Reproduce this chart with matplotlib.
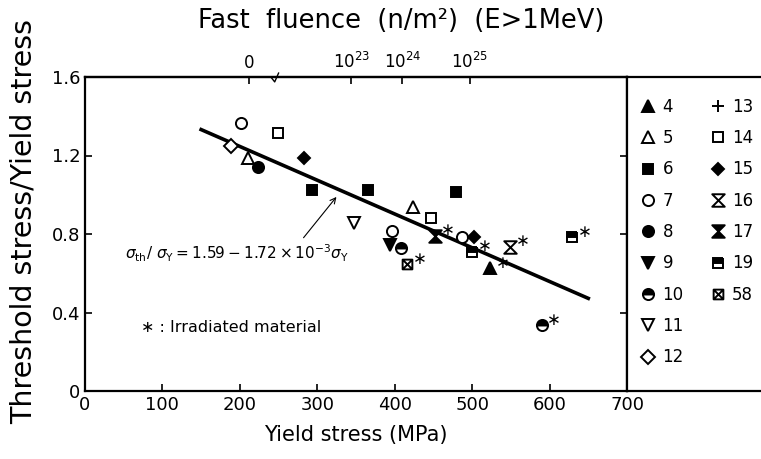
import matplotlib
matplotlib.use("Agg")
import matplotlib.pyplot as plt
from matplotlib.path import Path

plt.rcParams['font.family'] = ['DejaVu Sans']

# yield stress (MPa), threshold/yield ratio for every data series
pts_4 = [(523, 0.625)]
pts_5 = [(211, 1.186), (424, 0.939)]
pts_6 = [(293, 1.024), (366, 1.024), (479, 1.016)]
pts_7 = [(201, 1.364), (397, 0.815), (487, 0.783)]
pts_8 = [(224, 1.14)]
pts_9 = [(394, 0.744)]
pts_10 = [(408, 0.727), (590, 0.336)]
pts_11 = [(347, 0.854)]
pts_12 = [(189, 1.248)]
pts_13 = []
pts_14 = [(249, 1.313), (447, 0.88)]
pts_15 = [(283, 1.186), (502, 0.783)]
pts_16 = [(549, 0.735)]
pts_17 = [(452, 0.79)]
pts_19 = [(500, 0.71), (629, 0.783)]
pts_58 = [(416, 0.645)]

# irradiated material points (get a star)
irradiated = [(416, 0.645), (452, 0.79), (500, 0.71), (523, 0.625),
              (549, 0.735), (629, 0.783), (590, 0.336)]

# regression line end points
fit_x = [150, 650]
fit_y = [1.332, 0.472]

# top axis (fast fluence)
fluence_pos = [212, 344, 410, 497]
fluence_labels = ['0', r'$10^{23}$', r'$10^{24}$', r'$10^{25}$']
break_pos = 245

hourglass = Path([(-1, 1), (1, 1), (-1, -1), (1, -1), (-1, 1)],
                 [Path.MOVETO, Path.LINETO, Path.LINETO, Path.LINETO, Path.CLOSEPOLY])
boxx = Path([(-1, -1), (1, -1), (1, 1), (-1, 1), (-1, -1),
             (-1, -1), (1, 1), (-1, 1), (1, -1)],
            [Path.MOVETO, Path.LINETO, Path.LINETO, Path.LINETO, Path.CLOSEPOLY,
             Path.MOVETO, Path.LINETO, Path.MOVETO, Path.LINETO])

series = [
    ('4', pts_4, dict(marker='^', mfc='k', ms=8)),
    ('5', pts_5, dict(marker='^', mfc='white', ms=8)),
    ('6', pts_6, dict(marker='s', mfc='k', ms=6.5)),
    ('7', pts_7, dict(marker='o', mfc='white', ms=8)),
    ('8', pts_8, dict(marker='o', mfc='k', ms=8)),
    ('9', pts_9, dict(marker='v', mfc='k', ms=8)),
    ('10', pts_10, dict(marker='o', fillstyle='top', mfc='k', markerfacecoloralt='white', ms=8)),
    ('11', pts_11, dict(marker='v', mfc='white', ms=8)),
    ('12', pts_12, dict(marker='D', mfc='white', ms=7)),
    ('13', pts_13, dict(marker='+', ms=9)),
    ('14', pts_14, dict(marker='s', mfc='white', ms=7)),
    ('15', pts_15, dict(marker='D', mfc='k', ms=6.5)),
    ('16', pts_16, dict(marker=hourglass, mfc='white', ms=9)),
    ('17', pts_17, dict(marker=hourglass, mfc='k', ms=9)),
    ('19', pts_19, dict(marker='s', fillstyle='top', mfc='k', markerfacecoloralt='white', ms=7)),
    ('58', pts_58, dict(marker=boxx, mfc='none', ms=7)),
]

fig = plt.figure(figsize=(7.61, 4.59), dpi=100)
ax = fig.add_axes([85 / 761, 1 - 391 / 459, 542 / 761, 314 / 459])

handles = []
for name, pts, st in series:
    xs = [p[0] for p in pts]
    ys = [p[1] for p in pts]
    h, = ax.plot(xs, ys, ls='none', mec='k', mew=1.4, color='k', label=name,
                 zorder=4, **st)
    handles.append(h)

ax.plot(fit_x, fit_y, color='k', lw=2.6, zorder=3)

for x, y in irradiated:
    ax.annotate('∗', (x, y), xytext=(9, 4), textcoords='offset points',
                ha='center', va='center', fontsize=12)

ax.annotate('', xy=(327, 1.0), xytext=(280, 0.77),
            arrowprops=dict(arrowstyle='->', color='k', lw=0.8))
ax.text(52, 0.703, r'$\sigma_{\rm th}/\ \sigma_{\rm Y} = 1.59 - 1.72\times10^{-3}\sigma_{\rm Y}$',
        fontsize=11, va='center')
ax.text(72, 0.325, '∗ : Irradiated material', fontsize=11.5, va='center')

ax.set_xlim(0, 700)
ax.set_ylim(0, 1.6)
ax.set_xticks(range(0, 701, 100))
ax.set_yticks([0, 0.4, 0.8, 1.2, 1.6], ['0', '0.4', '0.8', '1.2', '1.6'])
ax.tick_params(direction='in', length=5, width=1.2, labelsize=13, right=True)
ax.set_xlabel('Yield stress (MPa)', fontsize=15, labelpad=8)
ax.set_ylabel('Threshold stress/Yield stress', fontsize=20.5)
ax.yaxis.set_label_coords(-0.088, 0.54)
for s in ax.spines.values():
    s.set_linewidth(1.6)

top = ax.secondary_xaxis('top')
top.set_xticks(fluence_pos, fluence_labels)
top.tick_params(direction='in', length=5, width=1.2, labelsize=12)
top.spines['top'].set_linewidth(1.6)
fig.text(401 / 761, 1 - 21 / 459, 'Fast  fluence  (n/m²)  (E>1MeV)', fontsize=18.5,
         ha='center', va='center')
ax.plot([break_pos - 5, break_pos, break_pos + 5], [1.6, 1.575, 1.62], color='k',
        lw=1, clip_on=False, zorder=5)

# legend box on the right
axl = fig.add_axes([627 / 761, 1 - 391 / 459, 160 / 761, 314 / 459])
axl.set_xticks([])
axl.set_yticks([])
for s in axl.spines.values():
    s.set_linewidth(1.6)
axl.legend(handles + [plt.Line2D([], [], ls='none')],
           [h.get_label() for h in handles] + [''],
           ncol=2, loc='upper left', bbox_to_anchor=(0.04, 0.955), frameon=False,
           fontsize=12, handlelength=1.0, handletextpad=0.35, columnspacing=1.55,
           labelspacing=0.8, borderaxespad=0, numpoints=1)

fig.savefig('out.png', dpi=100)
